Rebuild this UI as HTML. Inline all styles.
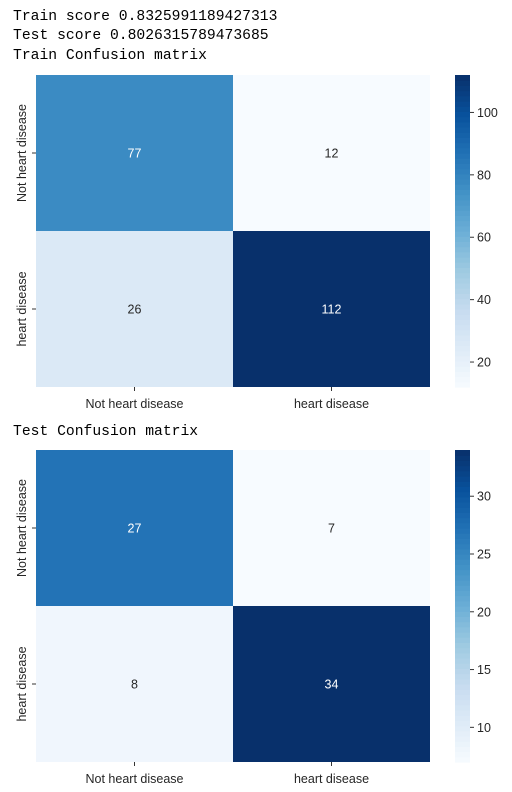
<!DOCTYPE html>
<html><head><meta charset="utf-8"><style>
body{margin:0;background:#fff;width:512px;height:792px;overflow:hidden;position:relative}
.t{position:absolute;left:13px;font-family:"Liberation Mono",monospace;font-size:14.7px;color:#000;white-space:pre;line-height:16px}
svg{position:absolute;left:0;top:0}
</style></head><body>
<div class="t" style="top:9px">Train score 0.8325991189427313</div>
<div class="t" style="top:28px">Test score 0.8026315789473685</div>
<div class="t" style="top:48px">Train Confusion matrix</div>
<div class="t" style="top:424px">Test Confusion matrix</div>
<svg id="s" width="512" height="792"></svg>
<script>
const labels = ["Not heart disease","heart disease"];
const trainValues = [[77,12],[26,112]];
const testValues = [[27,7],[8,34]];
const trainTicks = [20,40,60,80,100];
const testTicks = [10,15,20,25,30];
const NS="http://www.w3.org/2000/svg";
const svg=document.getElementById('s');
const stops=[[247,251,255],[222,235,247],[198,219,239],[158,202,225],[107,174,214],[66,146,198],[33,113,181],[8,81,156],[8,48,107]];
function blues(t){t=Math.max(0,Math.min(1,t))*8;const i=Math.min(7,Math.floor(t)),f=t-i;const a=stops[i],b=stops[i+1];return `rgb(${a.map((v,k)=>Math.round(v+(b[k]-v)*f)).join(',')})`;}
function mk(tag,attrs,parent){const e=document.createElementNS(NS,tag);for(const k in attrs)e.setAttribute(k,attrs[k]);(parent||svg).appendChild(e);return e;}
function draw(vals,ticks,top,name){
  const x0=36,x1=430,y0=top,y1=top+312;
  const flat=vals.flat(),mn=Math.min(...flat),mx=Math.max(...flat);
  const g=mk('g',{});
  
  
  const cw=(x1-x0)/2,ch=(y1-y0)/2;
  vals.forEach((row,r)=>row.forEach((v,c)=>{
    const t=(v-mn)/(mx-mn);
    const rc=mk('rect',{x:x0+c*cw,y:y0+r*ch,width:cw,height:ch,fill:blues(t)},g);
    
    
    const tx=mk('text',{x:x0+c*cw+cw/2,y:y0+r*ch+ch/2+4.5,'text-anchor':'middle','font-family':'Liberation Sans, sans-serif','font-size':'12.5',fill:t>0.5?'#fff':'#262626'},g);
    tx.textContent=v;
    
    
  }));
  labels.forEach((l,i)=>{
    const cx=x0+i*cw+cw/2;
    mk('line',{x1:cx,x2:cx,y1:y1,y2:y1+4,stroke:'#333'},g);
    const tx=mk('text',{x:cx,y:y1+21,'text-anchor':'middle','font-family':'Liberation Sans, sans-serif','font-size':'12.5',fill:'#262626'},g);
    tx.textContent=l;
    
    
    const cy=y0+i*ch+ch/2;
    mk('line',{x1:x0-4,x2:x0,y1:cy,y2:cy,stroke:'#333'},g);
    const ty=mk('text',{x:0,y:0,transform:`translate(${x0-10},${cy}) rotate(-90)`,'text-anchor':'middle','font-family':'Liberation Sans, sans-serif','font-size':'12.5',fill:'#262626'},g);
    ty.textContent=l;
    
    
  });
  const bx=455,bw=15,n=60;
  for(let k=0;k<n;k++){const h=(y1-y0)/n;mk('rect',{x:bx,y:y1-(k+1)*h,width:bw,height:h+0.6,fill:blues((k+0.5)/n)},g);}
  ticks.forEach(v=>{
    const y=y1-(v-mn)/(mx-mn)*(y1-y0);
    mk('line',{x1:bx+bw,x2:bx+bw+4,y1:y,y2:y,stroke:'#333'},g);
    const tx=mk('text',{x:bx+bw+7,y:y+4.5,'font-family':'Liberation Sans, sans-serif','font-size':'12.5',fill:'#262626'},g);
    tx.textContent=v;
    
    
  });
}
draw(trainValues,trainTicks,75,'train-heatmap');
draw(testValues,testTicks,450,'test-heatmap');
</script>
</body></html>
